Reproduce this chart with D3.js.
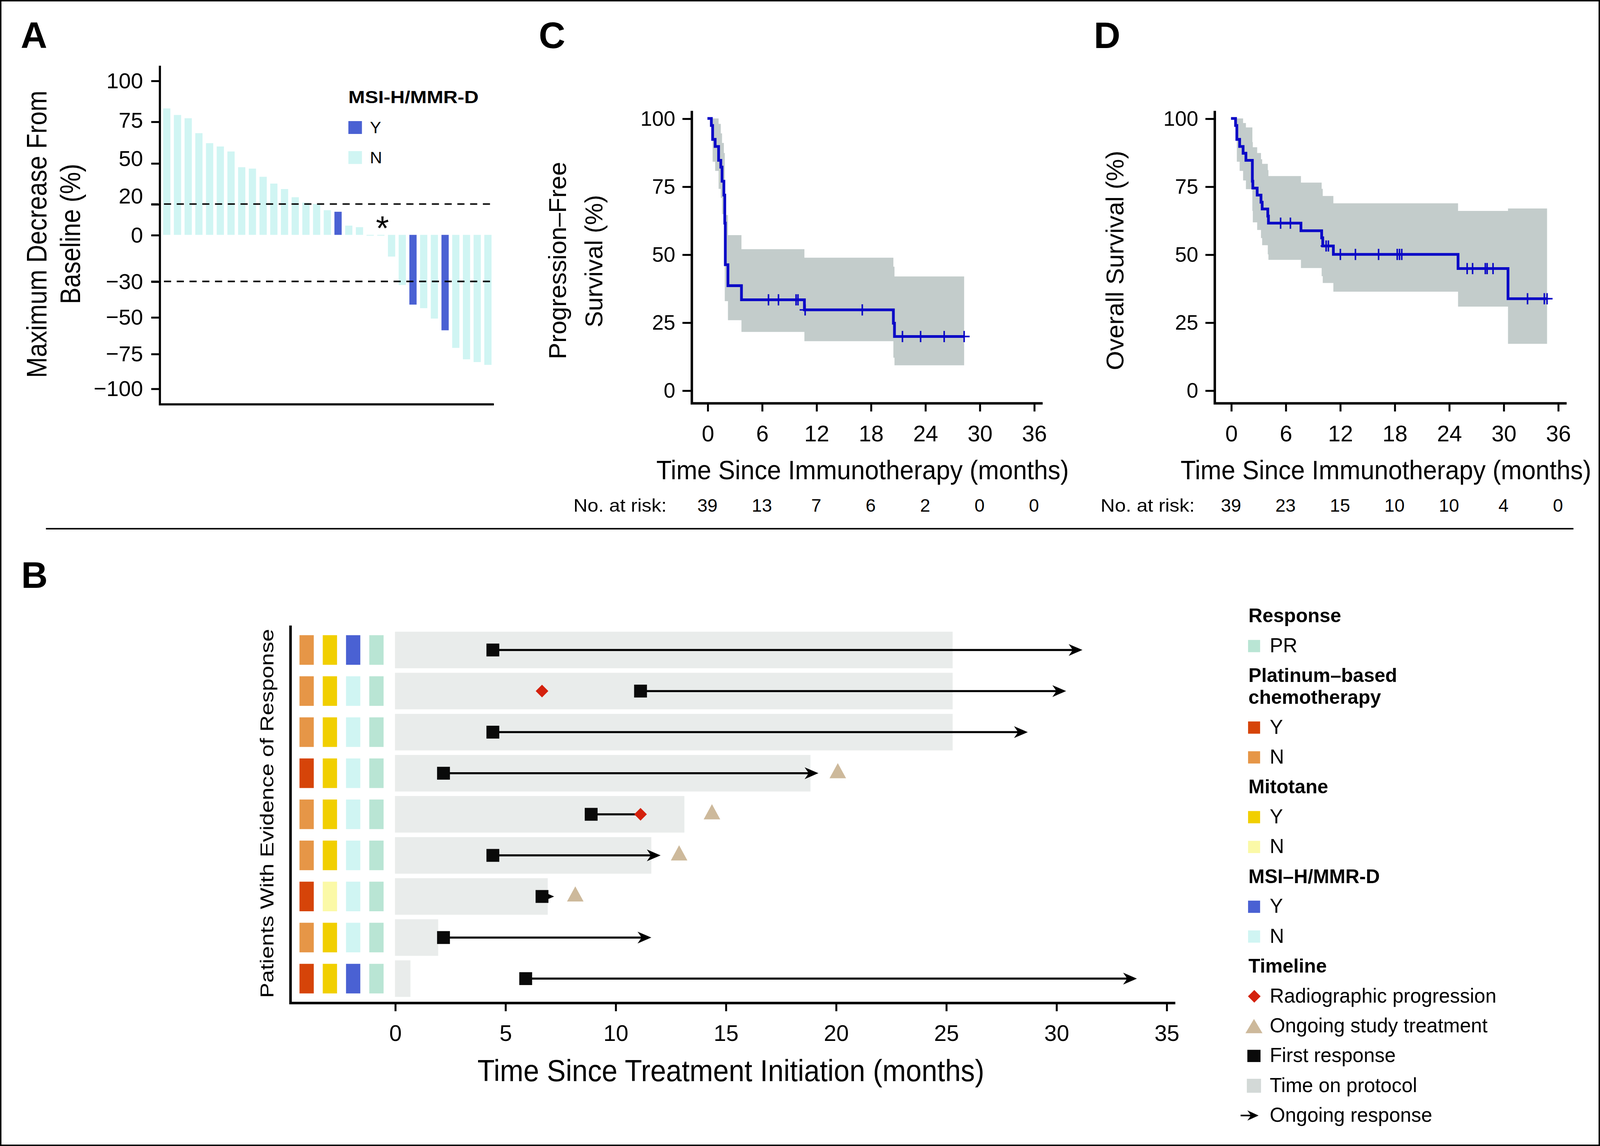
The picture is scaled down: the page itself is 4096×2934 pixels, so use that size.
<!DOCTYPE html>
<html><head><meta charset="utf-8">
<script src="https://cdn.jsdelivr.net/npm/d3@7"></script>
<style>
html,body{margin:0;padding:0;background:#fff;}
svg{display:block;}
text{font-family:"Liberation Sans",Arial,Helvetica,sans-serif;fill:#000;}
</style></head><body>
<svg id="fig" width="4096" height="2934" viewBox="0 0 1568 1123"></svg>
<script>
// ================= DATA =================
// Panel A – waterfall
const waterfallValues = [83,79,77,68,62,60,57,47,46,40,35,31,25,21,20,16,15,6,5,0,0,-14,-32,-43,-45,-51,-59,-71,-79,-81,-83];
const waterfallMSI    = ["N","N","N","N","N","N","N","N","N","N","N","N","N","N","N","N","Y","N","N","N","N","N","N","Y","N","N","Y","N","N","N","N"];
const waterfallTicks  = [100,75,50,20,0,-30,-50,-75,-100];
const waterfallRefLines = [20,-30];
const asteriskBar = 20, asteriskValue = 9;

// Panel C – progression-free survival (step points)
const pfsTime  = [0,0.43,0.57,0.85,1.23,1.47,1.61,1.81,1.91,1.97,2.26,3.75,10.69,20.5,20.62,28.3];
const pfsSurv  = [100,97.4,92.3,89.7,84.6,82.1,76.9,71.8,61.5,46.2,38.5,33.3,29.6,24.7,19.8,19.8];
const pfsUpper = [100,100,100,100,98.0,94.5,91.0,87.3,72.0,64.5,57.1,51.9,48.8,45.5,41.9,41.9];
const pfsLower = [100,92.3,84.1,80.7,74.1,70.8,64.8,62.0,32.8,32.8,25.8,21.5,18.1,12.0,9.2,9.2];
const pfsCensorTime = [6.73,7.83,9.77,9.98,10.77,17.07,21.5,23.5,26.1,28.3];
const pfsCensorSurv = [33.3,33.3,33.3,33.3,29.6,29.6,19.8,19.8,19.8,19.8];
const pfsAtRisk = [39,13,7,6,2,0,0];

// Panel D – overall survival
const osTime  = [0,0.5,0.64,0.95,1.33,1.64,2.35,2.4,2.88,3.3,3.43,4.05,4.12,7.7,9.98,10.1,11.27,25.0,30.5,34.8];
const osSurv  = [100,97.4,92.3,89.7,87.2,84.6,76.9,74.4,71.8,69.2,66.7,64.1,61.5,58.7,56.1,53.1,50.0,44.8,33.7,33.7];
const osUpper = [100,100,100,100,98.3,96.7,91.3,89.4,87.3,85.0,83.3,81.0,78.8,76.4,74.1,71.5,68.8,66.0,66.9,66.9];
const osLower = [100,93.0,84.1,80.7,77.2,74.0,66.0,61.8,59.0,56.0,53.4,50.0,48.0,45.0,42.0,39.5,36.3,30.8,17.1,17.1];
const osCensorTime = [5.46,6.54,10.47,10.72,12.04,13.7,16.25,18.3,18.55,18.8,26.0,26.6,28.0,28.2,28.85,32.65,34.5,34.8];
const osCensorSurv = [61.5,61.5,53.1,53.1,50,50,50,50,50,50,44.8,44.8,44.8,44.8,44.8,33.7,33.7,33.7];
const osAtRisk = [39,23,15,10,10,4,0];

const kmTicksX = [0,6,12,18,24,30,36];
const kmTicksY = [0,25,50,75,100];

// Panel B – swimmer plot (one entry per patient, top to bottom)
const swimPatients   = [1,2,3,4,5,6,7,8,9];
const protocolEnd    = [25.3,25.3,25.3,18.85,13.13,11.63,6.93,1.96,0.70];
const firstResponse  = [4.44,11.14,4.44,2.2,8.9,4.44,6.67,2.2,5.93];
const responseEnd    = [31.19,30.45,28.71,19.21,11.14,12.05,7.22,11.63,33.66];
const responseOngoing= [true,true,true,true,false,true,true,true,true];
const progression    = [null,6.67,null,null,11.14,null,null,null,null];
const ongoingTreatment=[null,null,null,20.09,14.38,12.89,8.18,null,null];
const platinum  = ["N","N","N","Y","N","N","Y","N","Y"];
const mitotane  = ["Y","Y","Y","Y","Y","Y","N","Y","Y"];
const msiStatus = ["Y","N","N","N","N","N","N","N","Y"];
const responseType = ["PR","PR","PR","PR","PR","PR","PR","PR","PR"];
const swimTicks = [0,5,10,15,20,25,30,35];

const legendGroups = [
  {title:["Response"], items:[["PR","pr"]]},
  {title:["Platinum–based","chemotherapy"], items:[["Y","platY"],["N","platN"]]},
  {title:["Mitotane"], items:[["Y","mitY"],["N","mitN"]]},
  {title:["MSI–H/MMR-D"], items:[["Y","msiY"],["N","msiN"]]},
  {title:["Timeline"], items:[["Radiographic progression","diamond"],["Ongoing study treatment","triangle"],["First response","square"],["Time on protocol","protocol"],["Ongoing response","arrow"]]}
];

// ================= STYLE =================
const COL = {
  msiY:"#4a61d3", msiN:"#d0f5f3", platY:"#d64409", platN:"#e69647", mitY:"#f1cf00", mitN:"#fbf9a7",
  pr:"#b9e5d4", protocol:"#e9eceb", protocolKey:"#d3d9d7", prog:"#d4210d", ongoing:"#cdb99b",
  km:"#0b08c6", band:"#c3cccb", ink:"#000"
};
const FONT = '"Liberation Sans", Arial, Helvetica, sans-serif';
const svg = d3.select("#fig");

function label(g, x, y, s, o = {}) {
  const t = g.append("text").attr("x", 0).attr("y", 0).text(s)
    .attr("font-size", o.size || 19)
    .attr("text-anchor", o.anchor || "start");
  if (o.bold) t.attr("font-weight", "bold");
  let sx = 1;
  if (o.len) { const nat = t.node().getComputedTextLength(); if (nat > 0) sx = o.len / nat; }
  t.attr("transform", `translate(${x},${y})` + (o.rotate ? ` rotate(${o.rotate})` : "") + (sx !== 1 ? ` scale(${sx.toFixed(4)},1)` : ""));
  return t;
}
function styleAxis(ax, size) {
  ax.attr("font-family", FONT).attr("font-size", size);
  ax.select(".domain").remove();
  ax.selectAll(".tick line").attr("stroke", COL.ink).attr("stroke-width", 1.9);
  ax.selectAll(".tick text").attr("fill", COL.ink);
}

// frame and separator
svg.append("rect").attr("x",0.7).attr("y",0.6).attr("width",1566.6).attr("height",1121.8)
  .attr("fill","none").attr("stroke",COL.ink).attr("stroke-width",1.4);
svg.append("line").attr("x1",45).attr("x2",1542).attr("y1",518.1).attr("y2",518.1)
  .attr("stroke",COL.ink).attr("stroke-width",1.5);

// panel letters
["A","C","D","B"].forEach((L,i)=>{
  const pos = [[20.3,47],[528,47],[1072,47],[20.8,576]][i];
  label(svg, pos[0], pos[1], L, {size:36, bold:true});
});

// ================= PANEL A =================
(function(){
  const g = svg.append("g");
  const y = d3.scaleLinear().domain(waterfallTicks).range([78.9,119.0,159.8,199.9,230.1,275.7,310.7,346.6,380.7]);
  const x = d3.scaleBand().domain(d3.range(waterfallValues.length)).range([157.8,483.8]).paddingInner(0.323).paddingOuter(0.2);
  g.selectAll("rect.bar").data(waterfallValues).join("rect").attr("class","bar")
    .attr("x",(d,i)=>x(i)).attr("width",x.bandwidth())
    .attr("y",d=>Math.min(y(d),y(0)))
    .attr("height",d=>Math.max(0.8,Math.abs(y(d)-y(0))))
    .attr("fill",(d,i)=>waterfallMSI[i]==="Y"?COL.msiY:COL.msiN);
  g.selectAll("line.ref").data(waterfallRefLines).join("line").attr("class","ref")
    .attr("x1",148.2).attr("x2",485.5).attr("y1",d=>y(d)).attr("y2",d=>y(d))
    .attr("stroke",COL.ink).attr("stroke-width",1.5).attr("stroke-dasharray","7,5.5");
  const shift = {75:-1.2, 50:-4.6, 20:-7.8};
  const ax = g.append("g").attr("transform","translate(156.7,0)")
    .call(d3.axisLeft(y).tickValues(waterfallTicks).tickSize(8.5).tickSizeOuter(0).tickPadding(8).tickFormat(d3.format("d")));
  styleAxis(ax, 21.5);
  ax.selectAll(".tick text").attr("y", d => shift[d] || 0);
  g.append("path").attr("d","M156.7,64.3V396.2H484").attr("fill","none").attr("stroke",COL.ink).attr("stroke-width",2.1);
  // asterisk
  label(g, x(asteriskBar)+x.bandwidth()/2+1.5, y(asteriskValue)+18.6, "*", {size:33, anchor:"middle"});
  // y title
  label(g, 45.7, 229.5, "Maximum Decrease From", {size:28, anchor:"middle", rotate:-90, len:281.6});
  label(g, 78.4, 229.2, "Baseline (%)", {size:28, anchor:"middle", rotate:-90, len:137.4});
  // legend
  label(g, 341.4, 101.1, "MSI-H/MMR-D", {size:17, bold:true, len:127.6});
  [["Y","msiY"],["N","msiN"]].forEach((it,i)=>{
    const top = [118.6,148.0][i];
    g.append("rect").attr("x",341.4).attr("y",top).attr("width",13.3).attr("height",12.6).attr("fill",COL[it[1]]);
    label(g, 362.5, top+11.8, it[0], {size:16.5});
  });
})();

// ================= PANELS C & D =================
function drawKM(cfg){
  const g = svg.append("g");
  const x = d3.scaleLinear().domain([0,36]).range(cfg.xr);
  const y = d3.scaleLinear().domain([0,100]).range([382.5,116.0]);
  const pts = cfg.time.map((t,i)=>({t, s:cfg.surv[i], lo:cfg.lower[i], up:cfg.upper[i]}));
  g.append("path").datum(pts)
    .attr("d", d3.area().curve(d3.curveStepAfter).x(d=>x(d.t)).y0(d=>y(d.lo)).y1(d=>y(d.up)))
    .attr("fill", COL.band);
  g.append("path").datum(pts)
    .attr("d", d3.line().curve(d3.curveStepAfter).x(d=>x(d.t)).y(d=>y(d.s)))
    .attr("fill","none").attr("stroke",COL.km).attr("stroke-width",2.7);
  const cens = cfg.ct.map((t,i)=>({t, s:cfg.cs[i]}));
  g.selectAll("path.cens").data(cens).join("path").attr("class","cens")
    .attr("d", d=>`M${x(d.t)-5.4},${y(d.s)}H${x(d.t)+5.4}M${x(d.t)},${y(d.s)-5.5}V${y(d.s)+5.5}`)
    .attr("stroke",COL.km).attr("stroke-width",1.5).attr("fill","none");
  // axes
  const ay = g.append("g").attr("transform",`translate(${cfg.axisX},0)`)
    .call(d3.axisLeft(y).tickValues(kmTicksY).tickSize(9.2).tickSizeOuter(0).tickPadding(7));
  styleAxis(ay, 20.5);
  const axb = g.append("g").attr("transform","translate(0,395.2)")
    .call(d3.axisBottom(x).tickValues(kmTicksX).tickSize(8).tickSizeOuter(0).tickPadding(13.6));
  styleAxis(axb, 22);
  g.append("path").attr("d",`M${cfg.axisX},108.5V395.2H${cfg.axisEnd}`).attr("fill","none").attr("stroke",COL.ink).attr("stroke-width",2.4);
  // titles
  label(g, cfg.xTitleX, 469.6, "Time Since Immunotherapy (months)", {size:26.4, len:cfg.xTitleLen});
  label(g, cfg.riskX, 501.3, "No. at risk:", {size:17.8, len:cfg.riskLen});
  kmTicksX.forEach((t,i)=>label(g, x(t), 501.3, String(cfg.risk[i]), {size:17.8, anchor:"middle"}));
  cfg.yTitle.forEach(l=>label(g, l.x, l.y, l.text, {size:24, anchor:"middle", rotate:-90, len:l.len}));
}
drawKM({xr:[693.3,1013.3], axisX:678, axisEnd:1021.8, time:pfsTime, surv:pfsSurv, upper:pfsUpper, lower:pfsLower,
  ct:pfsCensorTime, cs:pfsCensorSurv, risk:pfsAtRisk, xTitleX:643.2, xTitleLen:404.2, riskX:562, riskLen:91.3,
  yTitle:[{text:"Progression–Free", x:554.6, y:255.3, len:193.5},{text:"Survival (%)", x:590.4, y:255.9, len:129.8}]});
drawKM({xr:[1206.4,1526.8], axisX:1190.5, axisEnd:1535.3, time:osTime, surv:osSurv, upper:osUpper, lower:osLower,
  ct:osCensorTime, cs:osCensorSurv, risk:osAtRisk, xTitleX:1157, xTitleLen:402.5, riskX:1078.6, riskLen:92.2,
  yTitle:[{text:"Overall Survival (%)", x:1101, y:255.2, len:215.1}]});

// ================= PANEL B =================
function arrowHead(g, tipX, cy, len, half, notch){
  g.append("path").attr("d",`M${tipX},${cy}L${tipX-len},${cy-half}L${tipX-len+notch},${cy}L${tipX-len},${cy+half}Z`).attr("fill",COL.ink);
}
function diamond(g, cx, cy){
  g.append("path").attr("d",`M${cx},${cy-6.2}L${cx+6.2},${cy}L${cx},${cy+6.2}L${cx-6.2},${cy}Z`).attr("fill",COL.prog);
}
function triangle(g, cx, cy, w, h){
  g.append("path").attr("d",`M${cx},${cy-2*h/3}L${cx+w/2},${cy+h/3}L${cx-w/2},${cy+h/3}Z`).attr("fill",COL.ongoing);
}
(function(){
  const g = svg.append("g");
  const x = d3.scaleLinear().domain([0,35]).range([387.1,1143.1]);
  const y = d3.scaleBand().domain(swimPatients).range([613,983]).paddingInner(0.11).paddingOuter(0.15);
  const colX = d3.scaleBand().domain(["plat","mit","msi","resp"]).range([289.1,380.3]).paddingInner(0.386).paddingOuter(0.193);
  const cy = i => y(swimPatients[i]) + y.bandwidth()/2;
  swimPatients.forEach((p,i)=>{
    g.append("rect").attr("x",x(0)).attr("y",y(p)).attr("width",x(protocolEnd[i])-x(0)).attr("height",y.bandwidth()).attr("fill",COL.protocol);
    const cols = {plat:COL["plat"+platinum[i]], mit:COL["mit"+mitotane[i]], msi:COL["msi"+msiStatus[i]], resp:COL.pr};
    Object.keys(cols).forEach(k=>{
      g.append("rect").attr("x",colX(k)).attr("y",cy(i)-14.5).attr("width",colX.bandwidth()).attr("height",29).attr("fill",cols[k]);
    });
  });
  swimPatients.forEach((p,i)=>{
    const c = cy(i);
    const x0 = x(firstResponse[i]), x1 = x(responseEnd[i]);
    g.append("line").attr("x1",x0).attr("x2",responseOngoing[i]? x1-9 : x1).attr("y1",c).attr("y2",c)
      .attr("stroke",COL.ink).attr("stroke-width",2.0);
    if (responseOngoing[i]) arrowHead(g, x1, c, 13.5, 5.8, 4);
    g.append("rect").attr("x",x0-6.3).attr("y",c-6.3).attr("width",12.6).attr("height",12.6).attr("fill","#0a0a0a");
    if (progression[i]!==null) diamond(g, x(progression[i]), c);
    if (ongoingTreatment[i]!==null) triangle(g, x(ongoingTreatment[i]), c, 16.2, 14.9);
  });
  const axb = g.append("g").attr("transform","translate(0,983)")
    .call(d3.axisBottom(x).tickValues(swimTicks).tickSize(8).tickSizeOuter(0).tickPadding(13.6));
  styleAxis(axb, 22);
  g.append("path").attr("d","M284.7,613V983H1151.8").attr("fill","none").attr("stroke",COL.ink).attr("stroke-width",2.5);
  label(g, 467.9, 1059.6, "Time Since Treatment Initiation (months)", {size:30, len:496.7});
  label(g, 268.1, 797.2, "Patients With Evidence of Response", {size:18.6, anchor:"middle", rotate:-90, len:361.6});

  // legend
  const lg = svg.append("g");
  let base = 609.8, lastCenter = null;
  legendGroups.forEach((grp, gi)=>{
    if (gi>0) base = lastCenter + 35.3;
    grp.title.forEach((t,ti)=>{ label(lg, 1223.5, base + ti*21.3, t, {size:19, bold:true}); });
    let c = base + (grp.title.length-1)*21.3 + 23.3;
    grp.items.forEach((it,ii)=>{
      const cc = c + ii*29.2;
      const k = it[1];
      if (k==="diamond") diamond(lg, 1229.2, cc);
      else if (k==="triangle") triangle(lg, 1228.9, cc+2.3, 16.7, 14);
      else if (k==="square") lg.append("rect").attr("x",1222.4).attr("y",cc-6).attr("width",12.9).attr("height",12).attr("fill","#0a0a0a");
      else if (k==="protocol") lg.append("rect").attr("x",1221.9).attr("y",cc-6.8).attr("width",13.9).attr("height",13.7).attr("fill",COL.protocolKey);
      else if (k==="arrow") {
        lg.append("line").attr("x1",1215.8).attr("x2",1226).attr("y1",cc).attr("y2",cc).attr("stroke",COL.ink).attr("stroke-width",1.6);
        arrowHead(lg, 1233.4, cc, 11, 5, 3.5);
      }
      else lg.append("rect").attr("x",1223.1).attr("y",cc-6).attr("width",11.8).attr("height",12).attr("fill",COL[k]);
      label(lg, 1244.3, cc+6.1, it[0], {size:19.5});
      lastCenter = cc;
    });
  });
})();
</script>
</body></html>
